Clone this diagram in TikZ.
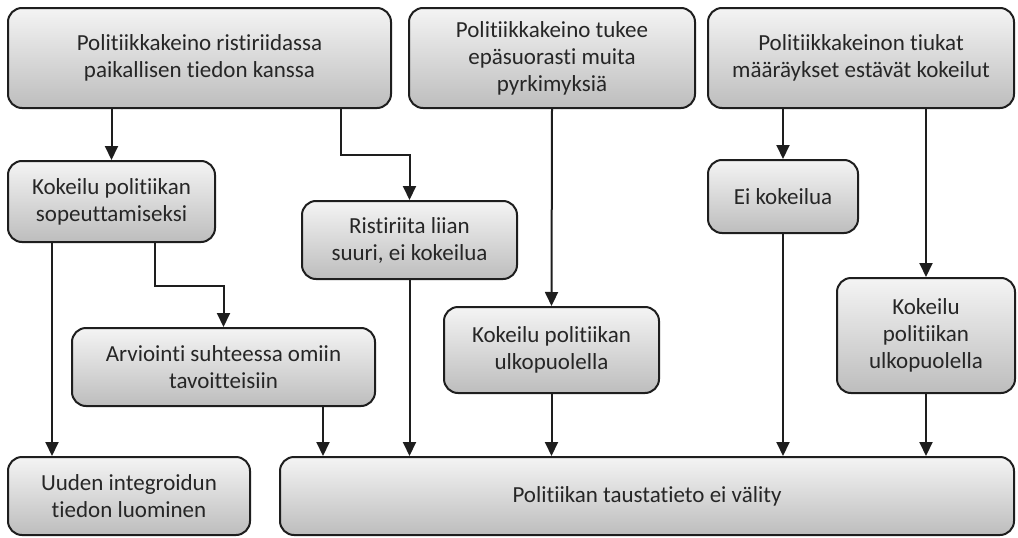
\documentclass[tikz,border=0pt]{standalone}
\usepackage{fontspec}
\setmainfont[Ligatures=NoCommon]{Carlito}
\usepackage{xcolor}
\usepackage{tikz}
\usetikzlibrary{arrows.meta}

\definecolor{Ink}{HTML}{1E1E1E}
\definecolor{TextGray}{HTML}{262626}
\definecolor{ShadeTop}{HTML}{F4F4F4}
\definecolor{ShadeBot}{HTML}{BDBDBD}

\tikzset{
  box/.style={draw=Ink, line width=2pt, rounded corners=14pt,
    top color=ShadeTop, bottom color=ShadeBot, align=center,
    text=TextGray, inner sep=0pt,
    font=\fontsize{23}{27}\selectfont},
  arr/.style={draw=Ink, line width=2pt,
    -{Triangle[length=14pt,width=13pt]}}
}

\begin{document}
\begin{tikzpicture}[x=1pt,y=-1pt]
  \useasboundingbox (0,0) rectangle (1018,538);

  % top row
  \node[box,minimum width=383,minimum height=100] (conflict) at (199.5,58)
    {Politiikkakeino ristiriidassa\\paikallisen tiedon kanssa};
  \node[box,minimum width=286,minimum height=100] (support) at (552,58)
    {Politiikkakeino tukee\\epäsuorasti muita\\pyrkimyksiä};
  \node[box,minimum width=306,minimum height=100] (strict) at (861,58)
    {Politiikkakeinon tiukat\\määräykset estävät kokeilut};

  % middle
  \node[box,minimum width=207,minimum height=81] (adapt) at (111.5,201.5)
    {Kokeilu politiikan\\sopeuttamiseksi};
  \node[box,minimum width=215,minimum height=78] (toobig) at (409.5,240)
    {Ristiriita liian\\suuri, ei kokeilua};
  \node[box,minimum width=150,minimum height=73] (noexp) at (783,196.5)
    {Ei kokeilua};
  \node[box,minimum width=303,minimum height=78] (assess) at (223.5,367)
    {Arviointi suhteessa omiin\\tavoitteisiin};
  \node[box,minimum width=215,minimum height=86] (outsideA) at (551.5,350)
    {Kokeilu politiikan\\ulkopuolella};
  \node[box,minimum width=178,minimum height=115] (outsideB) at (926,335.5)
    {Kokeilu\\politiikan\\ulkopuolella};

  % bottom row
  \node[box,minimum width=242,minimum height=78] (newknow) at (129,496)
    {Uuden integroidun\\tiedon luominen};
  \node[box,minimum width=734,minimum height=78] (nopass) at (647,496)
    {Politiikan taustatieto ei välity};

  % lanes for the off-centre lines
  \coordinate (laneA) at (52,0);
  \coordinate (laneB) at (155,0);
  \coordinate (laneC) at (323,0);
  \coordinate (laneD) at (341,0);

  % connectors
  \draw[arr] (adapt.north |- conflict.south) -- (adapt.north);
  \draw[arr] (conflict.south -| laneD) -- ++(0,46) -| (toobig.north);
  \draw[arr] (support.south) -- (outsideA.north);
  \draw[arr] (noexp.north |- strict.south) -- (noexp.north);
  \draw[arr] (outsideB.north |- strict.south) -- (outsideB.north);

  \draw[arr] (adapt.south -| laneA) -- (newknow.north -| laneA);
  \draw[arr] (adapt.south -| laneB) -- ++(0,43) -| (assess.north);

  \draw[arr] (assess.south -| laneC) -- (nopass.north -| laneC);
  \draw[arr] (toobig.south) -- (nopass.north -| toobig.south);
  \draw[arr] (outsideA.south) -- (nopass.north -| outsideA.south);
  \draw[arr] (noexp.south) -- (nopass.north -| noexp.south);
  \draw[arr] (outsideB.south) -- (nopass.north -| outsideB.south);
\end{tikzpicture}
\end{document}
